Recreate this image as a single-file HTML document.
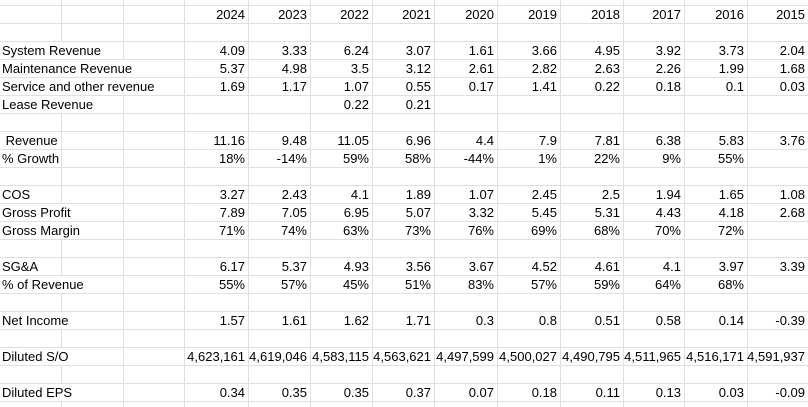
<!DOCTYPE html>
<html><head><meta charset="utf-8">
<style>
html,body{margin:0;padding:0;background:#fff;}
#sheet{position:relative;width:808px;height:407px;overflow:hidden;background:#fff;font-family:"Liberation Sans",Arial,sans-serif;font-size:13px;color:#000;}
.c{position:absolute;height:17px;line-height:17px;white-space:nowrap;}
.r{text-align:right;}
.lab{background:#fff;padding-left:2px;}
svg{position:absolute;left:0;top:0;}
</style></head>
<body>
<div id="sheet">
<svg id="grid" width="808" height="407"></svg>
</div>
<script>
const years=["2024","2023","2022","2021","2020","2019","2018","2017","2016","2015"];
const systemRevenue=["4.09","3.33","6.24","3.07","1.61","3.66","4.95","3.92","3.73","2.04"];
const maintenanceRevenue=["5.37","4.98","3.5","3.12","2.61","2.82","2.63","2.26","1.99","1.68"];
const serviceRevenue=["1.69","1.17","1.07","0.55","0.17","1.41","0.22","0.18","0.1","0.03"];
const leaseRevenue=["","","0.22","0.21","","","","","",""];
const revenue=["11.16","9.48","11.05","6.96","4.4","7.9","7.81","6.38","5.83","3.76"];
const growth=["18%","-14%","59%","58%","-44%","1%","22%","9%","55%",""];
const cos=["3.27","2.43","4.1","1.89","1.07","2.45","2.5","1.94","1.65","1.08"];
const grossProfit=["7.89","7.05","6.95","5.07","3.32","5.45","5.31","4.43","4.18","2.68"];
const grossMargin=["71%","74%","63%","73%","76%","69%","68%","70%","72%",""];
const sga=["6.17","5.37","4.93","3.56","3.67","4.52","4.61","4.1","3.97","3.39"];
const pctRevenue=["55%","57%","45%","51%","83%","57%","59%","64%","68%",""];
const netIncome=["1.57","1.61","1.62","1.71","0.3","0.8","0.51","0.58","0.14","-0.39"];
const dilutedSO=["4,623,161","4,619,046","4,583,115","4,563,621","4,497,599","4,500,027","4,490,795","4,511,965","4,516,171","4,591,937"];
const dilutedEPS=["0.34","0.35","0.35","0.37","0.07","0.18","0.11","0.13","0.03","-0.09"];

const colB=[0,61,123,184,248,310,372,434,497,560,623,684,747,808];
const rowTop=5,rowH=18;
const rows=[
 {k:0,label:"",cover:0,vals:years,name:"year-header"},
 {k:2,label:"System Revenue",cover:123,vals:systemRevenue,name:"system-revenue"},
 {k:3,label:"Maintenance Revenue",cover:184,vals:maintenanceRevenue,name:"maintenance-revenue"},
 {k:4,label:"Service and other revenue",cover:184,vals:serviceRevenue,name:"service-revenue"},
 {k:5,label:"Lease Revenue",cover:123,vals:leaseRevenue,name:"lease-revenue"},
 {k:7,label:"\u00a0Revenue",cover:60,vals:revenue,name:"revenue"},
 {k:8,label:"% Growth",cover:60,vals:growth,name:"growth"},
 {k:10,label:"COS",cover:60,vals:cos,name:"cos"},
 {k:11,label:"Gross Profit",cover:123,vals:grossProfit,name:"gross-profit"},
 {k:12,label:"Gross Margin",cover:123,vals:grossMargin,name:"gross-margin"},
 {k:14,label:"SG&A",cover:60,vals:sga,name:"sga"},
 {k:15,label:"% of Revenue",cover:123,vals:pctRevenue,name:"pct-of-revenue"},
 {k:17,label:"Net Income",cover:123,vals:netIncome,name:"net-income"},
 {k:19,label:"Diluted S/O",cover:123,vals:dilutedSO,name:"diluted-so"},
 {k:21,label:"Diluted EPS",cover:123,vals:dilutedEPS,name:"diluted-eps"}
];
const sheet=document.getElementById('sheet');
const svg=document.getElementById('grid');
const NS="http://www.w3.org/2000/svg";
let g="";
for(let y=rowTop-rowH;y<=407;y+=rowH){g+=`<line x1="0" y1="${y+0.5}" x2="808" y2="${y+0.5}" stroke="#e0e0e0" stroke-width="1"/>`;}
for(let i=1;i<colB.length-1;i++){g+=`<line x1="${colB[i]+0.5}" y1="0" x2="${colB[i]+0.5}" y2="407" stroke="#e0e0e0" stroke-width="1"/>`;}
svg.innerHTML=g;
rows.forEach(r=>{
 const top=rowTop+r.k*rowH+1;
 if(r.label){
  const d=document.createElement('div');
  d.className='c lab';
  d.style.left='0px';d.style.top=top+'px';d.style.width=(r.cover-2)+'px';
  d.textContent=r.label;
  
  
  sheet.appendChild(d);
 }
 r.vals.forEach((v,i)=>{
  if(v==="")return;
  const d=document.createElement('div');
  d.className='c r';
  const x0=colB[3+i],x1=colB[4+i];
  d.style.left=(x0-10)+'px';d.style.top=top+'px';d.style.width=(x1-x0+10-3)+'px';
  d.textContent=v;
  
  
  sheet.appendChild(d);
 });
});
</script>
</body></html>
